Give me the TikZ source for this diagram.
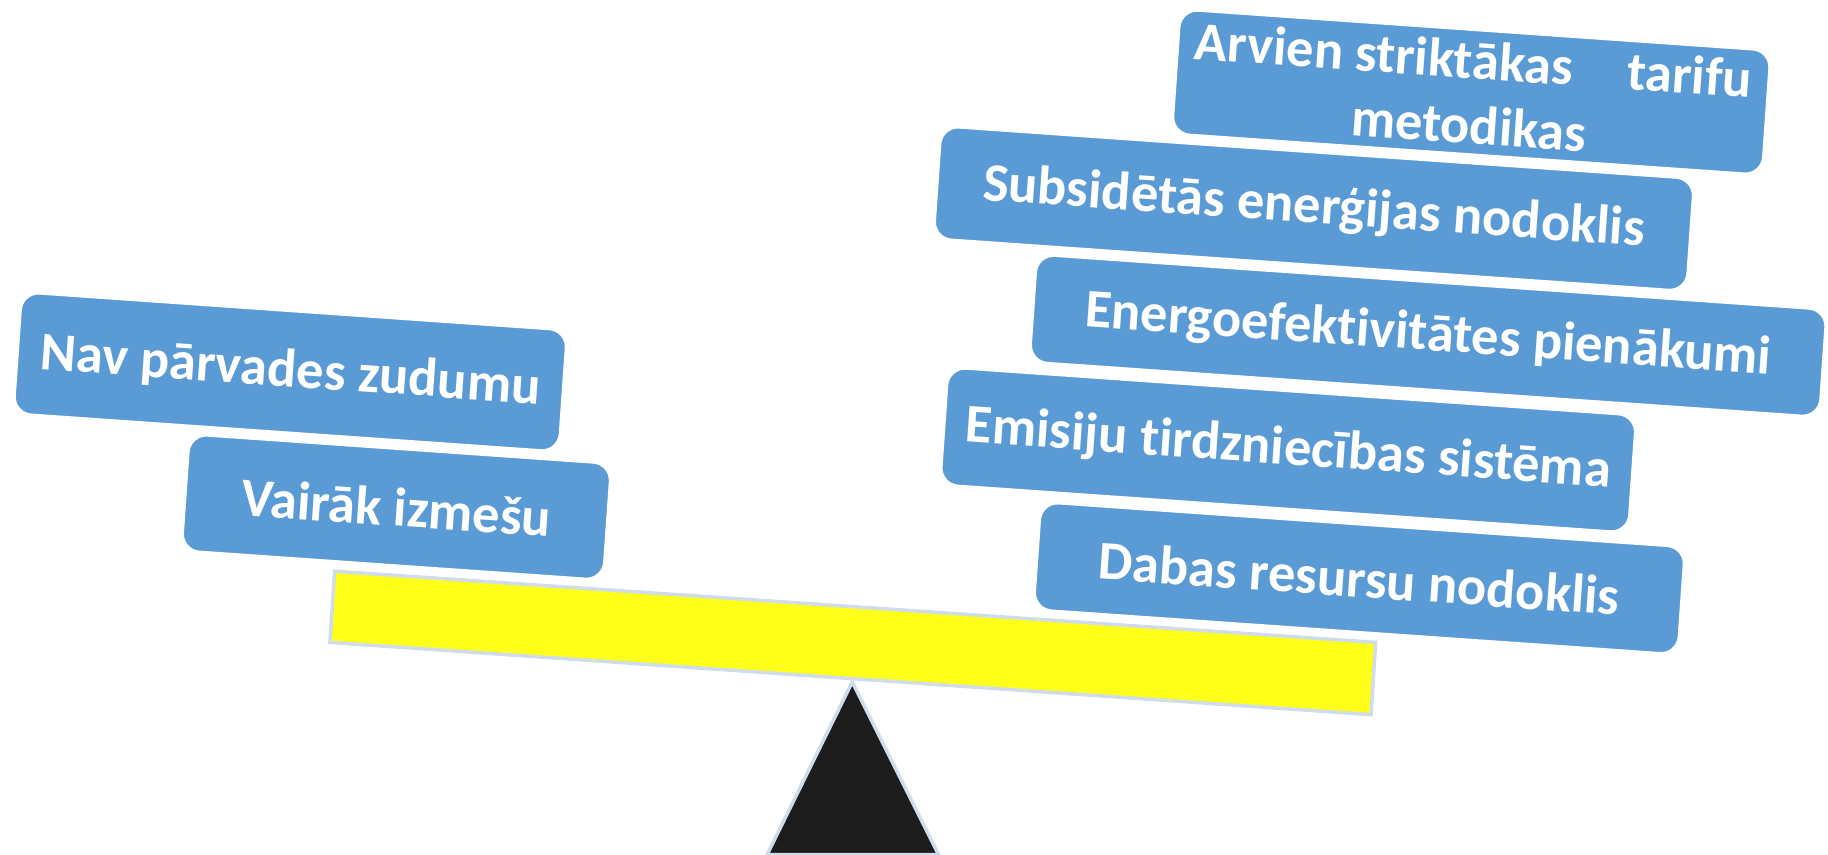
\documentclass[tikz,border=0pt]{standalone}
\usepackage{fontspec}
\setmainfont{Carlito}[Ligatures={NoCommon}]
\usepackage{xcolor}
\definecolor{plateblue}{HTML}{5B9BD5}
\definecolor{beamyellow}{HTML}{FFFF1A}
\definecolor{rimgrey}{HTML}{CFDCE9}
\definecolor{pivotblack}{HTML}{1C1C1C}

\begin{document}
\begin{tikzpicture}[x=0.011658cm, y=-0.011658cm,
    plate/.style={draw=white, line width=0.8pt, fill=plateblue, rounded corners=0.18cm,
        rotate=-4, text=white, align=center, inner sep=0pt,
        font=\fontsize{15.5}{18.5}\selectfont\bfseries}]
        \useasboundingbox (0,0) rectangle (1568,733);

        % coordinates
        \coordinate (b1) at (287,490);
        \coordinate (b2) at (1180,551);
        \coordinate (b3) at (1176,613);
        \coordinate (b4) at (283,551);
        \coordinate (p1) at (731,585);
        \coordinate (p2) at (658,733);
        \coordinate (p3) at (805,733);

        % beam and pivot
        \filldraw[fill=beamyellow, draw=rimgrey, line width=1pt] (b1) -- (b2) -- (b3) -- (b4) -- cycle;
        \filldraw[fill=pivotblack, draw=rimgrey, line width=1pt] (p1) -- (p2) -- (p3) -- cycle;

        % left side
        \node[plate, minimum width=4.23cm, minimum height=1.17cm] (izmesi) at (340,435) {Vairāk izmešu};
        \node[plate, minimum width=5.47cm, minimum height=1.22cm] (zudumi) at (249,319) {Nav pārvades zudumu};

        % right side
        \node[plate, minimum width=5.92cm, minimum height=1.25cm] (tarifi) at (1262,79) {Arvien striktākas\quad tarifu\\metodikas};
        \node[plate, minimum width=7.55cm, minimum height=1.13cm] (subsidijas) at (1127,179) {Subsidētās enerģijas nodoklis};
        \node[plate, minimum width=7.92cm, minimum height=1.08cm] (efektivitate) at (1225,288) {Energoefektivitātes pienākumi};
        \node[plate, minimum width=6.90cm, minimum height=1.18cm] (emisijas) at (1105,386) {Emisiju tirdzniecības sistēma};
        \node[plate, minimum width=6.46cm, minimum height=1.08cm] (resursi) at (1166,496) {Dabas resursu nodoklis};

    \end{tikzpicture}
\end{document}
